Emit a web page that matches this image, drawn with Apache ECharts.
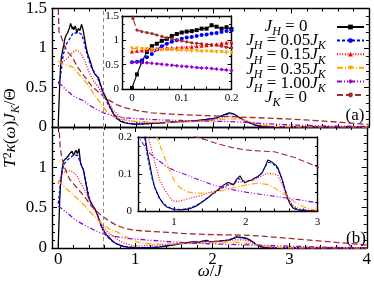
<!DOCTYPE html>
<html><head><meta charset="utf-8">
<script src="https://cdn.jsdelivr.net/npm/echarts@6/dist/echarts.min.js"></script>
<style>html,body{margin:0;padding:0;background:#fff}#c{width:374px;height:282px}</style>
</head><body><div id="c"></div>
<script>
// ---------- data ----------
const seriesNames = ['JH0', 'JH005', 'JH015', 'JH035', 'JH100', 'JK0'];
const legendLabels = [
  '{i|J}{s|H}{n| = 0}',
  '{i|J}{s|H}{n| = 0.05}{i|J}{s|K}',
  '{i|J}{s|H}{n| = 0.15}{i|J}{s|K}',
  '{i|J}{s|H}{n| = 0.35}{i|J}{s|K}',
  '{i|J}{s|H}{n| = 1.00}{i|J}{s|K}',
  '{i|J}{s|K}{n| = 0}'
];
const panelLabels = ['(a)', '(b)'];
const mainXTicks = [0, 1, 2, 3, 4];
const mainXMinor = [0.2, 0.4, 0.6, 0.8, 1.2, 1.4, 1.6, 1.8, 2.2, 2.4, 2.6, 2.8, 3.2, 3.4, 3.6, 3.8];
const topInsetXTicks = [0, 0.1, 0.2];
const topInsetXMinor = [0.025, 0.05, 0.075, 0.125, 0.15, 0.175];
const botInsetXTicks = [1, 2, 3];
const botInsetXMinor = [0.6, 0.8, 1.2, 1.4, 1.6, 1.8, 2.2, 2.4, 2.6, 2.8];
const refLineMain = [0.58];
const refLineInset = [0];

const topBlack = [[0,0.02],[0.01,0.3],[0.02,0.56],[0.03,0.76],[0.04,0.88],[0.05,0.93],[0.06,0.99],[0.07,1.03],[0.08,1.09],[0.09,1.13],[0.1,1.16],[0.11,1.18],[0.12,1.19],[0.13,1.21],[0.14,1.24],[0.15,1.24],[0.16,1.31],[0.17,1.28],[0.18,1.24],[0.19,1.27],[0.2,1.23],[0.22,1.28],[0.24,1.19],[0.26,1.25],[0.28,1.22],[0.3,1.3],[0.32,1.23],[0.34,1.12],[0.36,1.0],[0.38,0.92],[0.41,0.84],[0.44,0.74],[0.46,0.69],[0.48,0.66],[0.5,0.65],[0.52,0.62],[0.54,0.55],[0.58,0.44],[0.63,0.34],[0.67,0.25],[0.71,0.17],[0.75,0.11],[0.8,0.075],[0.85,0.055],[0.9,0.045],[1.0,0.035],[1.1,0.04],[1.2,0.045],[1.3,0.05],[1.4,0.06],[1.5,0.065],[1.6,0.07],[1.7,0.075],[1.8,0.085],[1.9,0.095],[2.0,0.11],[2.05,0.12],[2.1,0.14],[2.15,0.16],[2.2,0.18],[2.25,0.17],[2.3,0.14],[2.35,0.11],[2.4,0.08],[2.45,0.06],[2.5,0.04],[2.55,0.02],[2.6,0.008],[2.7,0.002],[2.8,0],[3.0,0],[3.5,0],[4.0,0]];
const topBlue = [[0,0.55],[0.01,0.56],[0.02,0.59],[0.03,0.65],[0.04,0.72],[0.05,0.81],[0.06,0.88],[0.07,0.93],[0.08,0.97],[0.09,1.0],[0.1,1.03],[0.11,1.06],[0.12,1.07],[0.13,1.09],[0.14,1.11],[0.15,1.12],[0.16,1.14],[0.17,1.15],[0.18,1.17],[0.19,1.19],[0.2,1.2],[0.23,1.19],[0.26,1.2],[0.3,1.17],[0.33,1.09],[0.35,1.0],[0.39,0.86],[0.43,0.75],[0.48,0.67],[0.52,0.59],[0.56,0.48],[0.6,0.38],[0.65,0.27],[0.71,0.17],[0.78,0.1],[0.84,0.065],[0.9,0.045],[1.0,0.035],[1.2,0.044],[1.4,0.057],[1.6,0.067],[1.8,0.08],[1.9,0.09],[2.0,0.105],[2.1,0.135],[2.2,0.17],[2.25,0.165],[2.3,0.14],[2.4,0.08],[2.5,0.035],[2.6,0.01],[2.7,0.002],[2.8,0],[4.0,0]];
const topRed = [[0,0.77],[0.01,0.78],[0.02,0.79],[0.03,0.8],[0.04,0.81],[0.05,0.82],[0.06,0.83],[0.07,0.84],[0.08,0.84],[0.09,0.85],[0.1,0.86],[0.11,0.86],[0.12,0.87],[0.13,0.88],[0.14,0.89],[0.15,0.9],[0.16,0.91],[0.17,0.92],[0.18,0.94],[0.19,0.95],[0.2,0.96],[0.23,0.97],[0.26,0.96],[0.3,0.92],[0.35,0.82],[0.39,0.71],[0.45,0.59],[0.52,0.5],[0.58,0.4],[0.65,0.3],[0.71,0.21],[0.8,0.13],[0.88,0.09],[0.95,0.07],[1.0,0.062],[1.2,0.052],[1.4,0.058],[1.6,0.066],[1.8,0.078],[2.0,0.095],[2.1,0.115],[2.2,0.14],[2.3,0.125],[2.4,0.085],[2.5,0.045],[2.6,0.018],[2.7,0.007],[2.8,0.003],[3.0,0.001],[4.0,0]];
const topOrange = [[0,0.83],[0.01,0.83],[0.02,0.82],[0.03,0.82],[0.04,0.81],[0.05,0.81],[0.06,0.8],[0.07,0.8],[0.08,0.8],[0.09,0.79],[0.1,0.79],[0.11,0.79],[0.12,0.78],[0.13,0.78],[0.14,0.77],[0.15,0.77],[0.16,0.77],[0.17,0.76],[0.18,0.76],[0.19,0.75],[0.2,0.75],[0.24,0.7],[0.28,0.65],[0.33,0.6],[0.37,0.55],[0.41,0.49],[0.45,0.43],[0.5,0.36],[0.54,0.31],[0.58,0.25],[0.63,0.19],[0.67,0.16],[0.71,0.13],[0.8,0.1],[0.9,0.08],[1.0,0.07],[1.2,0.062],[1.4,0.06],[1.6,0.064],[1.8,0.072],[2.0,0.085],[2.2,0.105],[2.3,0.1],[2.4,0.085],[2.5,0.06],[2.6,0.035],[2.7,0.018],[2.8,0.009],[3.0,0.003],[4.0,0]];
const topPurple = [[0,0.55],[0.01,0.55],[0.02,0.54],[0.03,0.54],[0.04,0.53],[0.05,0.52],[0.06,0.51],[0.07,0.5],[0.08,0.49],[0.09,0.48],[0.1,0.47],[0.11,0.46],[0.12,0.45],[0.13,0.44],[0.14,0.43],[0.15,0.43],[0.16,0.42],[0.17,0.41],[0.18,0.4],[0.19,0.39],[0.2,0.38],[0.24,0.37],[0.33,0.33],[0.41,0.27],[0.5,0.22],[0.58,0.18],[0.67,0.15],[0.76,0.13],[0.88,0.115],[1.0,0.105],[1.2,0.095],[1.4,0.088],[1.6,0.082],[1.8,0.077],[2.0,0.073],[2.2,0.068],[2.4,0.058],[2.6,0.046],[2.8,0.035],[3.0,0.026],[3.5,0.012],[4.0,0.006]];
const topBrown = [[0,4],[0.002,1.45],[0.01,1.21],[0.02,1.18],[0.03,1.16],[0.04,1.14],[0.05,1.11],[0.06,1.08],[0.07,1.05],[0.08,1.03],[0.09,1.01],[0.1,0.99],[0.11,0.97],[0.12,0.95],[0.13,0.94],[0.14,0.93],[0.15,0.92],[0.16,0.91],[0.17,0.9],[0.18,0.88],[0.19,0.86],[0.2,0.85],[0.24,0.77],[0.33,0.65],[0.43,0.52],[0.54,0.42],[0.65,0.34],[0.76,0.28],[0.88,0.24],[1.0,0.21],[1.2,0.18],[1.5,0.16],[2.0,0.14],[2.5,0.12],[3.0,0.1],[3.5,0.07],[4.0,0.03]];

const bottomBlack = [[0,0],[0.01,0.3],[0.02,0.6],[0.03,0.78],[0.05,0.97],[0.07,1.08],[0.1,1.11],[0.13,1.14],[0.15,1.17],[0.18,1.2],[0.2,1.15],[0.23,1.21],[0.25,1.17],[0.27,1.23],[0.29,1.05],[0.33,0.96],[0.36,0.8],[0.39,0.64],[0.43,0.55],[0.48,0.48],[0.52,0.38],[0.56,0.27],[0.6,0.2],[0.63,0.16],[0.66,0.13],[0.7,0.09],[0.73,0.065],[0.8,0.035],[0.85,0.02],[0.9,0.011],[1.0,0.004],[1.1,0.003],[1.2,0.005],[1.3,0.012],[1.4,0.025],[1.5,0.04],[1.55,0.049],[1.6,0.055],[1.69,0.07],[1.75,0.077],[1.78,0.076],[1.83,0.07],[1.87,0.085],[1.92,0.095],[1.96,0.082],[1.99,0.076],[2.04,0.082],[2.09,0.084],[2.13,0.09],[2.16,0.092],[2.2,0.098],[2.23,0.103],[2.27,0.12],[2.31,0.138],[2.34,0.135],[2.38,0.13],[2.42,0.124],[2.45,0.116],[2.48,0.1],[2.51,0.084],[2.55,0.055],[2.58,0.035],[2.62,0.018],[2.66,0.008],[2.7,0.004],[2.8,0.001],[3,0],[4,0]];
const bottomBlue = [[0,0.55],[0.01,0.62],[0.02,0.72],[0.03,0.8],[0.05,0.93],[0.07,1.03],[0.1,1.07],[0.13,1.1],[0.17,1.13],[0.2,1.15],[0.25,1.15],[0.28,1.08],[0.33,0.96],[0.37,0.76],[0.41,0.6],[0.45,0.52],[0.5,0.44],[0.54,0.32],[0.58,0.22],[0.62,0.16],[0.66,0.12],[0.7,0.085],[0.75,0.055],[0.8,0.033],[0.9,0.012],[1.0,0.005],[1.1,0.004],[1.2,0.007],[1.3,0.014],[1.4,0.026],[1.5,0.04],[1.6,0.053],[1.7,0.066],[1.77,0.074],[1.83,0.072],[1.9,0.088],[1.96,0.08],[2.02,0.08],[2.1,0.085],[2.2,0.097],[2.26,0.115],[2.31,0.132],[2.38,0.128],[2.45,0.113],[2.5,0.088],[2.55,0.058],[2.6,0.03],[2.66,0.01],[2.75,0.003],[3,0],[4,0]];
const bottomRed = [[0,0.8],[0.05,0.92],[0.11,0.96],[0.18,0.95],[0.24,0.9],[0.3,0.79],[0.37,0.67],[0.43,0.54],[0.5,0.42],[0.56,0.3],[0.6,0.24],[0.64,0.2],[0.69,0.165],[0.75,0.12],[0.8,0.085],[0.86,0.06],[0.92,0.043],[0.98,0.027],[1.05,0.026],[1.1,0.028],[1.2,0.033],[1.3,0.038],[1.4,0.043],[1.5,0.05],[1.6,0.056],[1.7,0.065],[1.8,0.072],[1.9,0.078],[2.0,0.08],[2.1,0.083],[2.2,0.092],[2.3,0.102],[2.4,0.1],[2.45,0.095],[2.5,0.075],[2.55,0.05],[2.6,0.03],[2.66,0.015],[2.75,0.006],[2.9,0.001],[3,0],[4,0]];
const bottomOrange = [[0,0.84],[0.09,0.75],[0.18,0.67],[0.26,0.6],[0.35,0.52],[0.43,0.43],[0.52,0.34],[0.6,0.27],[0.68,0.23],[0.76,0.2],[0.83,0.165],[0.9,0.13],[0.97,0.095],[1.04,0.07],[1.12,0.058],[1.2,0.051],[1.3,0.049],[1.4,0.048],[1.55,0.05],[1.7,0.056],[1.85,0.064],[2.0,0.07],[2.16,0.075],[2.3,0.072],[2.4,0.062],[2.5,0.05],[2.6,0.036],[2.7,0.022],[2.8,0.012],[2.9,0.005],[3.0,0.002],[3.3,0.001],[4,0]];
const bottomPurple = [[0,0.52],[0.11,0.44],[0.22,0.35],[0.33,0.29],[0.43,0.24],[0.54,0.19],[0.67,0.155],[0.76,0.14],[0.9,0.12],[1.0,0.11],[1.1,0.103],[1.3,0.088],[1.55,0.07],[1.8,0.058],[2.0,0.051],[2.25,0.044],[2.5,0.037],[2.75,0.03],[3.0,0.022],[3.5,0.01],[4,0.004]];
const bottomBrown = [[0,4],[0.005,1.6],[0.026,1.25],[0.047,1.12],[0.09,0.98],[0.15,0.85],[0.24,0.75],[0.33,0.65],[0.43,0.52],[0.54,0.42],[0.65,0.34],[0.76,0.28],[0.88,0.24],[1.0,0.22],[1.2,0.205],[1.36,0.198],[1.6,0.182],[1.8,0.172],[2.0,0.165],[2.2,0.162],[2.4,0.16],[2.66,0.146],[2.8,0.135],[3.0,0.119],[3.3,0.095],[3.6,0.07],[3.9,0.045],[4.0,0.035]];

const topData = [topBlack, topBlue, topRed, topOrange, topPurple, topBrown];
const bottomData = [bottomBlack, bottomBlue, bottomRed, bottomOrange, bottomPurple, bottomBrown];

// ---------- styling ----------
const FONT = 'Liberation Serif';
const sty = [
  {color: '#000000', type: 'solid', symbol: 'rect', size: 4, rot: 0},
  {color: '#0000ff', type: [3, 2], symbol: 'circle', size: 4, rot: 0},
  {color: '#ff0000', type: [1, 1.6], symbol: 'triangle', size: 4, rot: 0},
  {color: '#ffa500', type: [6, 2, 1, 2], symbol: 'triangle', size: 4, rot: 180},
  {color: '#9400d3', type: [5, 2, 1, 2, 1, 2], symbol: 'diamond', size: 4, rot: 0},
  {color: '#a52a2a', type: [6, 3], symbol: 'circle', size: 3.2, rot: 0}
];

function xAxes(gi, min, max, major, minor, showLab, fs, margin, lenMaj, lenMin, z) {
  const line = {show: true, onZero: false, lineStyle: {color: '#000', width: 1.4}};
  const base = {type: 'value', gridIndex: gi, min: min, max: max, splitLine: {show: false}, z: z};
  const tick = (vals, len) => ({show: true, inside: true, length: len, customValues: vals, lineStyle: {color: '#000', width: 1}});
  return [
    Object.assign({}, base, {position: 'bottom', axisLine: line, axisTick: tick(major, lenMaj),
      axisLabel: {show: showLab, customValues: major, fontFamily: FONT, fontSize: fs, color: '#000', margin: margin}}),
    Object.assign({}, base, {position: 'bottom', axisLine: {show: false, onZero: false}, axisTick: tick(minor, lenMin), axisLabel: {show: false}}),
    Object.assign({}, base, {position: 'top', axisLine: line, axisTick: tick(major, lenMaj), axisLabel: {show: false}}),
    Object.assign({}, base, {position: 'top', axisLine: {show: false, onZero: false}, axisTick: tick(minor, lenMin), axisLabel: {show: false}})
  ];
}
function yAxes(gi, min, max, interval, minorSplit, fs, margin, lenMaj, lenMin, showMax, z) {
  const base = {type: 'value', gridIndex: gi, min: min, max: max, interval: interval, splitLine: {show: false}, z: z,
    axisLine: {show: true, onZero: false, lineStyle: {color: '#000', width: 1.4}},
    axisTick: {show: true, inside: true, length: lenMaj, lineStyle: {color: '#000', width: 1}},
    minorTick: {show: true, splitNumber: minorSplit, length: lenMin, lineStyle: {color: '#000', width: 1}},
    minorSplitLine: {show: false}};
  return [
    Object.assign({}, base, {position: 'left', axisLabel: {show: true, showMaxLabel: showMax, fontFamily: FONT, fontSize: fs, color: '#000', margin: margin}}),
    Object.assign({}, base, {position: 'right', axisLabel: {show: false}})
  ];
}

const grids = [
  {left: 52, top: 7, width: 317, height: 120, show: false},
  {left: 52, top: 127, width: 317, height: 121, show: false},
  {left: 122, top: 16, width: 109.5, height: 73, show: true, backgroundColor: '#fff', borderWidth: 0, z: 10},
  {left: 138, top: 137, width: 179.5, height: 74, show: true, backgroundColor: '#fff', borderWidth: 0, z: 10}
];

const xAxis = [].concat(
  xAxes(0, -0.08, 4, mainXTicks, mainXMinor, false, 17, 4, 5, 3, 0),
  xAxes(1, -0.08, 4, mainXTicks, mainXMinor, true, 17, 3, 5, 3, 0),
  xAxes(2, -0.02, 0.2, topInsetXTicks, topInsetXMinor, true, 11, 4, 4, 2.5, 11),
  xAxes(3, 0.5, 3, botInsetXTicks, botInsetXMinor, true, 11, 6, 4, 2.5, 11)
);
const yAxis = [].concat(
  yAxes(0, 0, 1.5, 0.5, 5, 17, 5, 5, 3, true, 0),
  yAxes(1, 0, 1.5, 0.5, 5, 17, 5, 5, 3, false, 0),
  yAxes(2, 0, 1.5, 0.5, 3, 11, 3, 4, 2.5, true, 11),
  yAxes(3, 0, 0.2, 0.1, 4, 11, 6, 4, 2.5, true, 11)
);

const refStyle = {color: '#888', type: [4, 3], width: 1};
function mk(i, data, xi, yi, opt) {
  const s = sty[i];
  return Object.assign({
    type: 'line', name: seriesNames[i], data: data, xAxisIndex: xi, yAxisIndex: yi,
    symbol: s.symbol, symbolSize: s.size, symbolRotate: s.rot, showSymbol: false,
    lineStyle: {color: s.color, width: 1.3, type: s.type}, itemStyle: {color: s.color},
    animation: false, silent: true, z: 2, clip: true
  }, opt || {});
}
const series = [];
for (let i = 0; i < 6; i++) series.push(mk(i, topData[i], 0, 0));
for (let i = 0; i < 6; i++) series.push(mk(i, bottomData[i], 4, 2));
for (let i = 0; i < 6; i++) series.push(mk(i, topData[i], 8, 4, {showSymbol: true, z: 12, lineStyle: {color: sty[i].color, width: 1.1, type: sty[i].type}}));
for (let i = 0; i < 6; i++) series.push(mk(i, bottomData[i], 12, 6, {z: 12, lineStyle: {color: sty[i].color, width: 1.1, type: sty[i].type}}));
const ml = (vals) => ({silent: true, symbol: 'none', label: {show: false}, lineStyle: refStyle, data: vals.map(v => ({xAxis: v}))});
series[0].markLine = ml(refLineMain);
series[6].markLine = ml(refLineMain);
series[12].markLine = ml(refLineInset);

const rich = {
  i: {fontFamily: FONT, fontStyle: 'italic', fontSize: 17, lineHeight: 18, verticalAlign: 'top', fill: '#000'},
  n: {fontFamily: FONT, fontSize: 17, lineHeight: 18, verticalAlign: 'top', fill: '#000'},
  s: {fontFamily: FONT, fontStyle: 'italic', fontSize: 12, lineHeight: 12, padding: [8, 0, 0, 0], verticalAlign: 'top', fill: '#000'},
  sup: {fontFamily: FONT, fontSize: 12, lineHeight: 12, padding: [0, 0, 0, 0], verticalAlign: 'top', fill: '#000'}
};
const legendRows = [27, 41.2, 55.4, 69.6, 83.8, 98];
const graphic = [];
legendLabels.forEach((t, k) => graphic.push({type: 'text', x: 286, y: legendRows[k], z: 20,
  style: {text: t, rich: rich, align: 'center', verticalAlign: 'middle'}}));
graphic.push({type: 'text', x: 355, y: 116, z: 20, style: {text: panelLabels[0], font: '17px "Liberation Serif"', fill: '#000', align: 'center', verticalAlign: 'middle'}});
graphic.push({type: 'text', x: 356, y: 239, z: 20, style: {text: panelLabels[1], font: '17px "Liberation Serif"', fill: '#000', align: 'center', verticalAlign: 'middle'}});
graphic.push({type: 'text', x: 210, y: 272, z: 20, style: {text: '{i|ω}{n|/}{i|J}', rich: rich, align: 'center', verticalAlign: 'middle'}});
graphic.push({type: 'text', x: 11, y: 128, rotation: Math.PI / 2, z: 20,
  style: {text: '{i|T}{sup|2}{i|κ}{n|(}{i|ω}{n|)}{i|J}{s|K}{n|/Θ}', rich: rich, align: 'center', verticalAlign: 'middle'}});

const chart = echarts.init(document.getElementById('c'), null, {renderer: 'canvas'});
chart.setOption({
  animation: false,
  backgroundColor: '#fff',
  grid: grids,
  xAxis: xAxis,
  yAxis: yAxis,
  legend: {orient: 'vertical', left: 336, top: 24, padding: 0, itemWidth: 27, itemHeight: 6, itemGap: 8.2,
    formatter: () => '', textStyle: {fontSize: 6}, data: seriesNames, selectedMode: false},
  graphic: graphic,
  series: series
});
</script></body></html>
